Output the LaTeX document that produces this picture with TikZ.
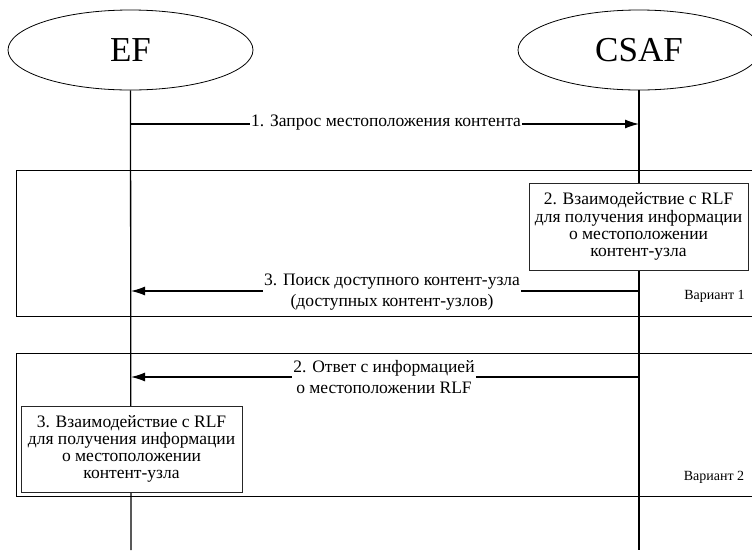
\documentclass[tikz,border=0pt]{standalone}
\usepackage{fontspec}
\setmainfont{Liberation Serif}
\usetikzlibrary{shapes.geometric,arrows.meta}

\begin{document}
\begin{tikzpicture}[x=1pt,y=-1pt,
  actor/.style={draw, ellipse, line width=0.8pt, minimum width=245pt, minimum height=80pt,
    inner sep=0pt, font=\fontsize{35}{38}\selectfont},
  lifeline/.style={line width=1.3pt},
  msg/.style={line width=1.3pt, -{Latex[length=14pt,width=9pt]}},
  frame/.style={draw, line width=0.9pt, anchor=north west, inner sep=0pt},
  actbox/.style={draw=black!85, fill=white, line width=0.9pt, align=center, inner sep=0pt,
    font=\fontsize{17.5}{17.2}\selectfont},
  lbl/.style={fill=white, inner sep=1pt, align=center, font=\fontsize{17.5}{21}\selectfont},
  variant/.style={font=\fontsize{14}{16}\selectfont, inner sep=0pt}
]
\useasboundingbox (0,0) rectangle (752,550);
\clip (0,0) rectangle (752,550);

% alternative frames
\node[frame, minimum width=760pt, minimum height=146pt] (alt1) at (16,170) {};
\node[frame, minimum width=760pt, minimum height=143pt] (alt2) at (16,353) {};
\node[variant] (v1) at (714.5,296) {Вариант 1};
\node[variant] (v2) at (714,477) {Вариант 2};

% participants and lifelines
\node[actor] (EF) at (130.5,50) {EF};
\node[actor, minimum width=242pt] (CSAF) at (639,50) {CSAF};
\coordinate (EFend) at (131,550);
\coordinate (CSAFend) at (639,550);
\draw[lifeline] (EF.south) -- (EFend);
\draw[lifeline] (CSAF.south) -- (CSAFend);

% 1. request
\coordinate (m1s) at (131,124);
\coordinate (m1e) at (639,124);
\draw[msg] (m1s) -- (m1e);
\node[lbl] (l1) at (386,123) {1. Запрос местоположения контента};

% variant 1
\node[actbox, minimum width=219pt, minimum height=87pt] (act2) at (638.5,226.5)
  {2. Взаимодействие с RLF\\для получения информации\\о местоположении\\контент-узла};
\coordinate (m3s) at (639,291);
\coordinate (m3e) at (131,291);
\draw[msg] (m3s) -- (m3e);
\node[lbl] (l3) at (392,292.5) {3. Поиск доступного контент-узла\\(доступных контент-узлов)};

% variant 2
\coordinate (m2s) at (639,377);
\coordinate (m2e) at (131,377);
\draw[msg] (m2s) -- (m2e);
\node[lbl] (l2) at (384,377.5) {2. Ответ с информацией\\о местоположении RLF};
\node[actbox, minimum width=221pt, minimum height=86pt] (act3) at (131.5,449)
  {3. Взаимодействие с RLF\\для получения информации\\о местоположении\\контент-узла};
\end{tikzpicture}
\end{document}
